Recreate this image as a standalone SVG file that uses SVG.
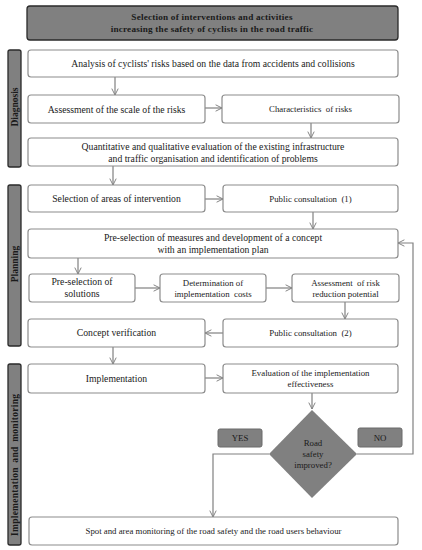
<svg xmlns="http://www.w3.org/2000/svg" width="422" height="550" viewBox="0 0 422 550">
<defs>
<marker id="arr" viewBox="0 0 10 10" refX="9" refY="5" markerWidth="8" markerHeight="8" markerUnits="userSpaceOnUse" orient="auto">
<path d="M1,1 L9,5 L1,9" fill="none" stroke="#808080" stroke-width="1.2"/>
</marker>
</defs>
<style>
.box{fill:#fff;stroke:#8c8c8c;stroke-width:1.2}
.dark{fill:#808080;stroke:#2a2a2a;stroke-width:1.3}
.tag{fill:#808080;stroke:#6a6a6a;stroke-width:1}
.t{font-family:"Liberation Serif","Times New Roman",serif;font-size:9.7px;fill:#1a1a1a;text-anchor:middle}
.s{font-size:8.8px}
.b{font-weight:bold}
.v{font-size:9.5px}
.ln{fill:none;stroke:#808080;stroke-width:1.2}
.la{fill:none;stroke:#808080;stroke-width:1.2;marker-end:url(#arr)}
</style>
<rect width="422" height="550" fill="#fff"/>

<g id="title">
<rect class="dark" x="27" y="6" width="371" height="34" rx="3"/>
<text class="t b" x="212" y="20" style="font-size:9.2px;letter-spacing:0.2px">Selection of interventions and activities</text>
<text class="t b" x="212" y="32" style="font-size:9.2px;letter-spacing:0.2px">increasing the safety of cyclists in the road traffic</text>
</g>

<g id="lane-diagnosis">
<rect class="dark" x="8" y="50" width="13" height="117" rx="2"/>
<text class="t b v" transform="translate(18,107) rotate(-90)">Diagnosis</text>
</g>
<g id="lane-planning">
<rect class="dark" x="8" y="185" width="13" height="161" rx="2"/>
<text class="t b v" transform="translate(18,264) rotate(-90)">Planning</text>
</g>
<g id="lane-implementation">
<rect class="dark" x="8" y="364" width="13" height="181" rx="2"/>
<text class="t b v" transform="translate(18,465) rotate(-90)" textLength="142" lengthAdjust="spacing" style="word-spacing:2px">Implementation and monitoring</text>
</g>

<g id="connectors">
<line class="la" x1="115" y1="77" x2="115" y2="95"/>
<line class="la" x1="205" y1="108" x2="222" y2="108"/>
<line class="la" x1="311" y1="123" x2="311" y2="138"/>
<line class="la" x1="113" y1="166" x2="113" y2="185"/>
<line class="la" x1="205" y1="199" x2="223" y2="199"/>
<line class="la" x1="313" y1="212" x2="313" y2="229"/>
<line class="la" x1="78" y1="258" x2="78" y2="274"/>
<line class="la" x1="135" y1="288" x2="160" y2="288"/>
<line class="la" x1="266" y1="288" x2="292" y2="288"/>
<line class="la" x1="345" y1="302" x2="345" y2="319"/>
<line class="la" x1="223" y1="333" x2="205" y2="333"/>
<line class="la" x1="113" y1="347" x2="113" y2="364"/>
<line class="la" x1="205" y1="378" x2="223" y2="378"/>
<line class="la" x1="312" y1="393" x2="312" y2="409"/>
<polyline class="la" points="269,454 213,454 213,517"/>
<polyline class="la" points="357,454 413,454 413,243 398,243"/>
</g>

<g id="n1"><rect class="box" x="28" y="50" width="370" height="27" rx="3"/>
<text class="t" x="213" y="67">Analysis of cyclists' risks based on the data from accidents and collisions</text></g>

<g id="n2"><rect class="box" x="28" y="95" width="177" height="28" rx="3"/>
<text class="t" x="116.5" y="112.5">Assessment of the scale of the risks</text></g>

<g id="n3"><rect class="box" x="222" y="95" width="177" height="28" rx="3"/>
<text class="t s" x="310.5" y="112" xml:space="preserve">Characteristics  of risks</text></g>

<g id="n4"><rect class="box" x="28" y="138" width="370" height="28" rx="3"/>
<text class="t" x="213" y="150">Quantitative and qualitative evaluation of the existing infrastructure</text>
<text class="t" x="213" y="162">and traffic organisation and identification of problems</text></g>

<g id="n5"><rect class="box" x="28" y="185" width="177" height="27" rx="3"/>
<text class="t" x="116.5" y="202">Selection of areas of intervention</text></g>

<g id="n6"><rect class="box" x="223" y="185" width="175" height="27" rx="3"/>
<text class="t s" x="310.5" y="202" xml:space="preserve">Public consultation  (1)</text></g>

<g id="n7"><rect class="box" x="28" y="229" width="370" height="29" rx="3"/>
<text class="t" x="213" y="241">Pre-selection of measures and development of a concept</text>
<text class="t" x="213" y="253">with an implementation plan</text></g>

<g id="n8"><rect class="box" x="29" y="274" width="106" height="28" rx="3"/>
<text class="t" x="82" y="285">Pre-selection of</text>
<text class="t" x="82" y="297">solutions</text></g>

<g id="n9"><rect class="box" x="160" y="274" width="106" height="28" rx="3"/>
<text class="t s" x="213" y="286">Determination of</text>
<text class="t s" x="213" y="297" xml:space="preserve">implementation  costs</text></g>

<g id="n10"><rect class="box" x="292" y="274" width="107" height="28" rx="3"/>
<text class="t s" x="345.5" y="286" xml:space="preserve">Assessment  of risk</text>
<text class="t s" x="345.5" y="297">reduction potential</text></g>

<g id="n11"><rect class="box" x="223" y="319" width="175" height="28" rx="3"/>
<text class="t s" x="310.5" y="336" xml:space="preserve">Public consultation  (2)</text></g>

<g id="n12"><rect class="box" x="28" y="319" width="177" height="28" rx="3"/>
<text class="t" x="116.5" y="336">Concept verification</text></g>

<g id="n13"><rect class="box" x="28" y="364" width="177" height="29" rx="3"/>
<text class="t" x="116.5" y="382">Implementation</text></g>

<g id="n14"><rect class="box" x="223" y="364" width="175" height="29" rx="3"/>
<text class="t s" x="310.5" y="376">Evaluation of the implementation</text>
<text class="t s" x="310.5" y="387">effectiveness</text></g>

<g id="decision">
<polygon points="312,410 357,454 312,498 269,454" fill="#808080"/>
<text class="t s" x="313" y="446">Road</text>
<text class="t s" x="313" y="457">safety</text>
<text class="t s" x="313" y="468">improved?</text>
</g>

<g id="yes"><rect class="tag" x="218" y="429" width="44" height="18" rx="2"/>
<text class="t s" x="240" y="441">YES</text></g>
<g id="no"><rect class="tag" x="358" y="428" width="44" height="19" rx="2"/>
<text class="t s" x="380" y="441">NO</text></g>

<g id="n15"><rect class="box" x="29" y="517" width="369" height="28" rx="3"/>
<text class="t s" x="213.5" y="534">Spot and area monitoring of the road safety and the road users behaviour</text></g>
</svg>
